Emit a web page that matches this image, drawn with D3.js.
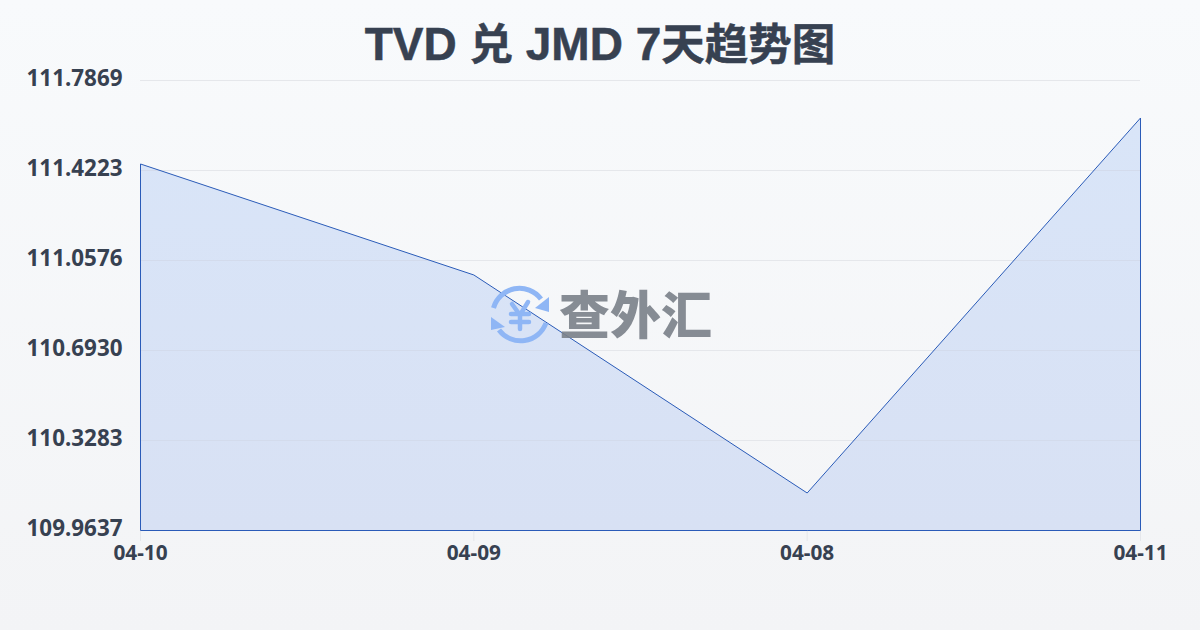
<!DOCTYPE html>
<html><head><meta charset="utf-8">
<script src="https://cdnjs.cloudflare.com/ajax/libs/d3/7.8.5/d3.min.js"></script>
<style>
html,body{margin:0;padding:0;width:1200px;height:630px;overflow:hidden;background:#fff}
svg{display:block}
</style></head><body>
<svg id="c" width="1200" height="630"></svg>
<script>
const titleParts = ["TVD ","兑"," JMD 7","天趋势图"];
const categories = ["04-10","04-09","04-08","04-11"];
const values = [111.4486,110.999,110.1156,111.635];
const yTicks = [109.9637,110.3283,110.6930,111.0576,111.4223,111.7869];
const watermarkText = "查外汇";

const svg = d3.select("#c");
const defs = svg.append("defs");
const bg = defs.append("linearGradient").attr("id","bg").attr("x1",0).attr("y1",0).attr("x2",0).attr("y2",1);
bg.append("stop").attr("offset","0%").attr("stop-color","#f8fafc");
bg.append("stop").attr("offset","100%").attr("stop-color","#f3f4f6");
const af = defs.append("linearGradient").attr("id","af").attr("gradientUnits","userSpaceOnUse").attr("x1",0).attr("y1",118).attr("x2",0).attr("y2",530);
af.append("stop").attr("offset","0%").attr("stop-color","#d9e5f8");
af.append("stop").attr("offset","100%").attr("stop-color","#d8e1f4");
svg.append("rect").attr("width",1200).attr("height",630).attr("fill","url(#bg)");

const x = d3.scalePoint().domain(categories).range([140.5,1140.5]);
const y = d3.scaleLinear().domain([yTicks[0],yTicks[5]]).range([530.5,80.5]);
const tickFont = "'Noto Sans','Open Sans',sans-serif";

svg.append("text").attr("x",600).attr("y",60).attr("text-anchor","middle")
  .attr("font-weight",700).attr("fill","#374151").attr("stroke","#374151").attr("stroke-width",.5)
  .style("white-space","pre")
  .selectAll("tspan").data(titleParts).join("tspan")
  .attr("font-family",(d,i)=>i%2===0?"'Liberation Sans'":"'Noto Sans CJK SC'")
  .attr("font-size",(d,i)=>i%2===0?46:43.5)
  .text(d=>d);

svg.append("g").selectAll("line").data(yTicks).join("line")
  .attr("x1",140).attr("x2",1140).attr("y1",d=>Math.floor(y(d))+.5).attr("y2",d=>Math.floor(y(d))+.5)
  .attr("stroke","#e5e7eb").attr("stroke-width",1);

svg.append("g").selectAll("text").data(yTicks).join("text")
  .attr("x",122.5).attr("y",d=>y(d)+5.5).attr("text-anchor","end")
  .attr("font-family",tickFont).attr("font-weight",700).attr("font-size",22.4).attr("fill","#374151")
  .text(d=>d.toFixed(4));

svg.append("g").selectAll("text").data(categories).join("text")
  .attr("x",d=>x(d)).attr("y",560).attr("text-anchor","middle")
  .attr("font-family",tickFont).attr("font-weight",700).attr("font-size",20.8).attr("fill","#374151")
  .text(d=>d);

svg.append("g").selectAll("line").data(categories).join("line")
  .attr("x1",d=>x(d)).attr("x2",d=>x(d)).attr("y1",531).attr("y2",541)
  .attr("stroke","#e5e7eb");

const pts = categories.map((c,i)=>[x(c),y(values[i])]);
const area = d3.area().x(d=>d[0]).y0(y(yTicks[0])).y1(d=>d[1]);
svg.append("path").attr("d",area(pts)).attr("fill","url(#af)");
const clip = defs.append("clipPath").attr("id","ac");
clip.append("path").attr("d",area(pts));
svg.append("g").attr("clip-path","url(#ac)").selectAll("line").data(yTicks.slice(1,5)).join("line")
  .attr("x1",140).attr("x2",1140).attr("y1",d=>Math.floor(y(d))+.5).attr("y2",d=>Math.floor(y(d))+.5)
  .attr("stroke","#d3dbec").attr("stroke-width",1);
svg.append("path").attr("d",area(pts)).attr("fill","none").attr("stroke","#2a5bb8").attr("stroke-width",1);

const wm = svg.append("g");
const ic = wm.append("g").attr("transform","translate(520,315)").attr("fill","none").attr("stroke","#8fb6f5");
ic.append("path").attr("stroke-width",5).attr("d","M-26.5,-7 A27,27 0 0 1 21,-16");
ic.append("path").attr("stroke-width",5).attr("d","M26,8 A27,27 0 0 1 -21,15");
ic.append("path").attr("fill","#8fb6f5").attr("stroke","none").attr("d","M29,-18 L29,-3 L15,-7 Z");
ic.append("path").attr("fill","#8fb6f5").attr("stroke","none").attr("d","M-29,2 L-29,15 L-15,12 Z");
ic.append("path").attr("stroke-width",4.5).attr("stroke-linecap","round").attr("d","M-8,-11 L0,0 L8,-13 M-9,-1 H9 M-9,7 H9 M0,0 V14");
wm.append("text").attr("x",559).attr("y",334).attr("font-family","'Noto Sans CJK SC'").attr("font-weight",900)
  .attr("font-size",51).attr("fill","#7a7f88").attr("fill-opacity",.9).text(watermarkText);
</script>
</body></html>
